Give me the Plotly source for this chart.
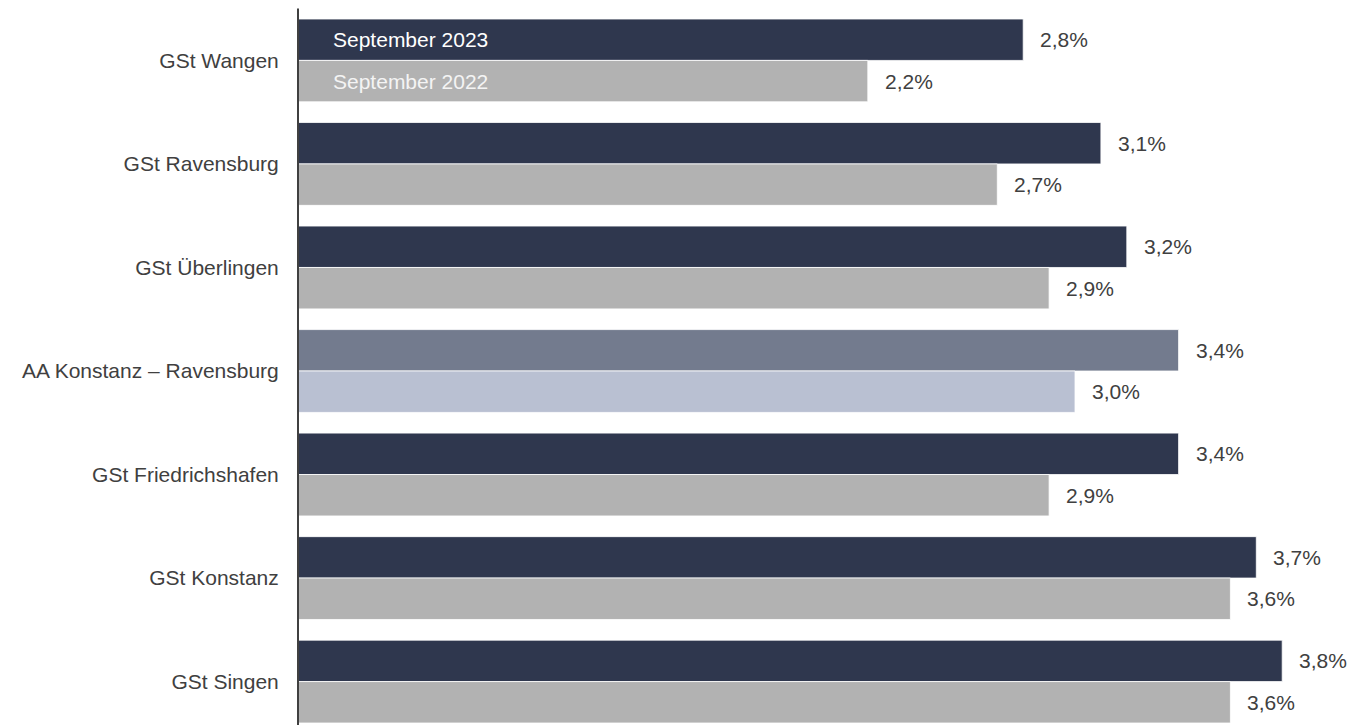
import plotly.graph_objects as go

# Arbeitslosenquote nach Geschäftsstellen
categories = [
    "GSt Wangen",
    "GSt Ravensburg",
    "GSt Überlingen",
    "AA Konstanz – Ravensburg",
    "GSt Friedrichshafen",
    "GSt Konstanz",
    "GSt Singen",
]
values_2023 = [2.8, 3.1, 3.2, 3.4, 3.4, 3.7, 3.8]
values_2022 = [2.2, 2.7, 2.9, 3.0, 2.9, 3.6, 3.6]
series_names = ["September 2023", "September 2022"]

highlight = "AA Konstanz – Ravensburg"
DARK, DARK_HL = "#2F374E", "#737B8E"
GRAY, GRAY_HL = "#B2B2B2", "#B9C0D2"
TEXT = "#404040"
FONT = "Liberation Sans, Arial, sans-serif"
FS = 21

colors_2023 = [DARK_HL if c == highlight else DARK for c in categories]
colors_2022 = [GRAY_HL if c == highlight else GRAY for c in categories]

fig = go.Figure()
fig.add_trace(go.Bar(
    y=categories, x=values_2023, orientation="h", name=series_names[0],
    marker=dict(color=colors_2023, line=dict(color="white", width=0.8)),
))
fig.add_trace(go.Bar(
    y=categories, x=values_2022, orientation="h", name=series_names[1],
    marker=dict(color=colors_2022, line=dict(color="white", width=0.8)),
))

annotations = []
# value labels at the bar ends
for i, (a, b) in enumerate(zip(values_2023, values_2022)):
    for val, off in ((a, -0.2), (b, 0.2)):
        annotations.append(dict(
            x=val, y=i + off, xref="x", yref="y",
            text=f"{val:.1f}%".replace(".", ","),
            showarrow=False, xanchor="left", yanchor="middle", xshift=15,
            font=dict(family=FONT, size=FS, color=TEXT),
        ))
# series names written inside the first pair of bars
for name, off, col in ((series_names[0], -0.2, "#FFFFFF"), (series_names[1], 0.2, "#F4F4F4")):
    annotations.append(dict(
        x=0, y=off, xref="x", yref="y", text=name, showarrow=False,
        xanchor="left", yanchor="middle", xshift=33,
        font=dict(family=FONT, size=FS, color=col),
    ))

fig.update_layout(
    width=1362, height=725,
    margin=dict(l=298, r=28, t=19, b=2),
    paper_bgcolor="white", plot_bgcolor="white",
    barmode="group", bargap=0.2, bargroupgap=0,
    showlegend=False,
    font=dict(family=FONT, size=FS, color=TEXT),
    annotations=annotations,
    shapes=[dict(
        type="line", xref="paper", yref="paper",
        x0=0, x1=0, y0=-0.01, y1=1.015,
        line=dict(color="#404040", width=2),
    )],
)
fig.update_xaxes(range=[0, 4.0], visible=False, fixedrange=True)
fig.update_yaxes(
    range=[6.4, -0.4], showgrid=False, zeroline=False, showline=False,
    ticks="outside", ticklen=14, tickcolor="rgba(0,0,0,0)",
    tickfont=dict(family=FONT, size=FS, color=TEXT),
)

fig.write_html("out.html")
